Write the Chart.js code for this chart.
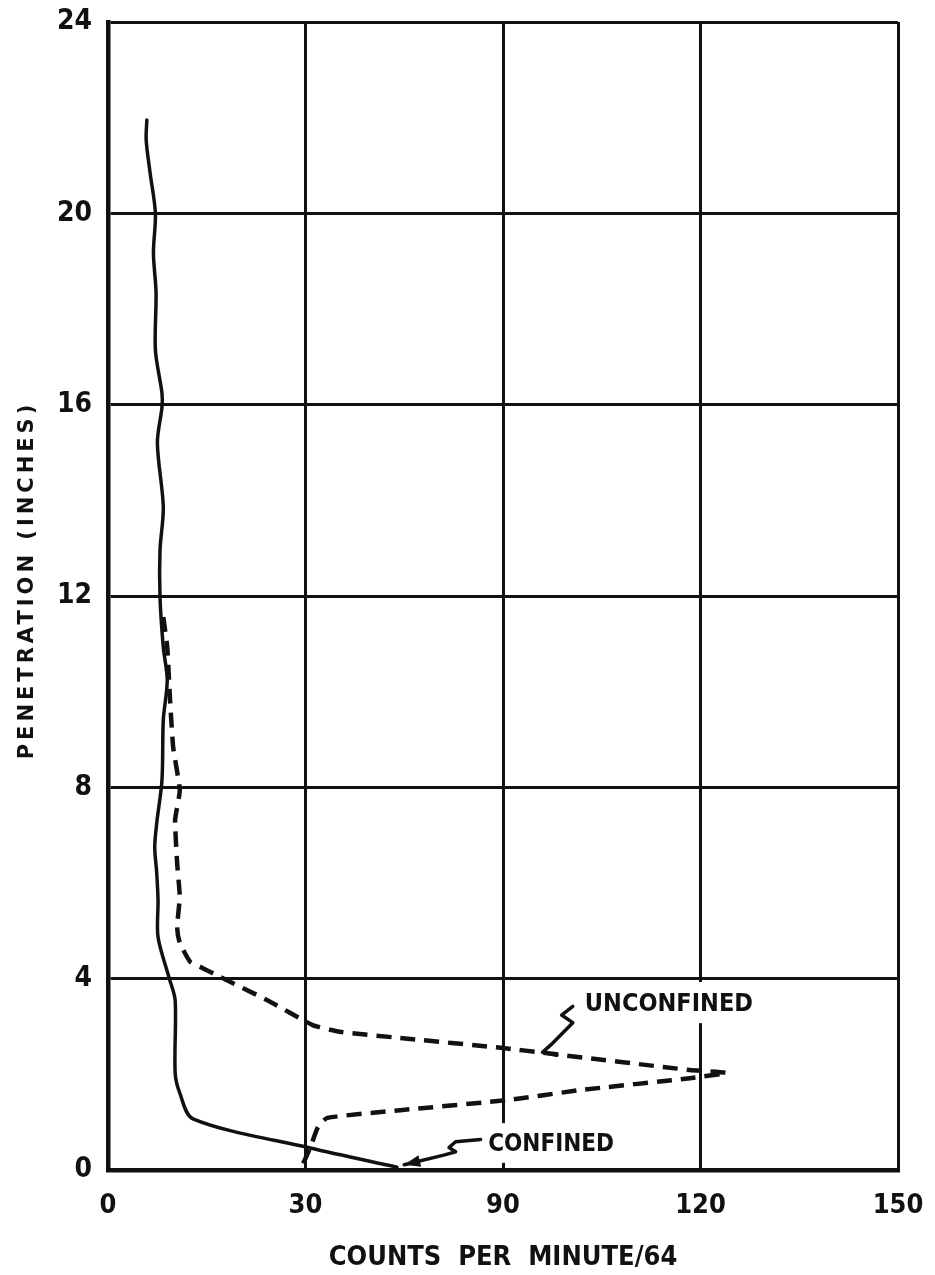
<!DOCTYPE html>
<html>
<head>
<meta charset="utf-8">
<script src="https://cdn.jsdelivr.net/npm/chart.js@4.4.1/dist/chart.umd.min.js"></script>
<style>
  html, body { margin: 0; padding: 0; background: #ffffff; }
  #wrap { width: 935px; height: 1275px; position: relative; }
</style>
</head>
<body>
<div id="wrap"><canvas id="c" width="935" height="1275"></canvas></div>
<script>
// ---- Data (x in grid units: 30 per division; labels as printed on the original) ----
const xTickLabels = ['0', '30', '90', '120', '150'];
const yTickValues = [0, 4, 8, 12, 16, 20, 24];

// CONFINED (solid)
const confinedX = [5.9, 5.8, 6.4, 7.2, 6.9, 7.3, 7.2, 8.2, 8.2, 7.5, 8.4, 7.9, 7.9, 8.4, 9.0, 8.4, 8.2, 7.4, 7.1, 7.4, 7.6, 7.6, 9.3, 10.2, 10.2, 10.9, 12.9, 30.7, 43.9];
const confinedY = [21.95, 21.53, 20.84, 20.0, 19.17, 18.34, 17.14, 16.24, 15.95, 15.2, 13.86, 12.96, 11.98, 10.93, 10.24, 9.41, 8.15, 7.25, 6.75, 6.21, 5.64, 4.87, 4.01, 3.55, 2.03, 1.61, 1.07, 0.46, 0.06];

// UNCONFINED (dashed)
const unconfinedX = [8.4, 9.0, 9.4, 9.9, 10.9, 10.2, 10.5, 10.9, 10.5, 10.9, 12.5, 14.4, 17.0, 24.2, 31.1, 35.2, 44.4, 60.0, 66.1, 88.4, 94.0, 88.4, 71.7, 60.6, 44.4, 33.3, 31.9, 30.7, 29.2];
const unconfinedY = [11.56, 10.93, 9.89, 8.84, 7.94, 7.32, 6.42, 5.71, 5.08, 4.75, 4.35, 4.22, 4.04, 3.55, 3.03, 2.89, 2.76, 2.55, 2.45, 2.09, 2.03, 1.92, 1.67, 1.46, 1.25, 1.09, 0.90, 0.46, 0.0];

const seriesLabels = ['CONFINED', 'UNCONFINED'];
const xTitle = 'COUNTS  PER  MINUTE/64';
const yTitle = 'PENETRATION (INCHES)';

const INK = '#111111';
const NARROW = "'Liberation Sans Narrow', 'DejaVu Sans Condensed', 'DejaVu Sans', sans-serif";
const WIDE = "'DejaVu Sans', 'Liberation Sans', sans-serif";

function pts(xs, ys) { return xs.map((x, i) => ({ x: x, y: ys[i] })); }

// label annotations (anchor in data units) + leader squiggles (data units)
const annotations = [
  { text: 'UNCONFINED', x: 85.2, y: 3.45, size: 25,
    mask: [71.6, 98.2, 3.93, 3.07],
    leader: [[70.6, 3.42], [68.9, 3.24], [70.6, 3.08], [67.3, 2.62], [66.0, 2.46], [68.2, 2.40]],
    arrow: false },
  { text: 'CONFINED', x: 67.3, y: 0.52, size: 24,
    mask: [57.0, 77.4, 0.98, 0.15],
    leader: [[56.6, 0.64], [52.8, 0.59], [51.8, 0.47], [52.8, 0.38], [51.0, 0.31], [45.0, 0.11]],
    arrow: true }
];

const overlay = {
  id: 'overlay',
  beforeDatasetsDraw(chart) {
    const { ctx, scales: { x, y } } = chart;
    ctx.save();
    ctx.fillStyle = '#ffffff';
    annotations.forEach(a => {
      const x0 = x.getPixelForValue(a.mask[0]), x1 = x.getPixelForValue(a.mask[1]);
      const y0 = y.getPixelForValue(a.mask[2]), y1 = y.getPixelForValue(a.mask[3]);
      ctx.fillRect(x0, y0, x1 - x0, y1 - y0);
    });
    ctx.restore();
  },
  afterDatasetsDraw(chart) {
    const { ctx, scales: { x, y } } = chart;
    ctx.save();
    ctx.fillStyle = INK;
    ctx.strokeStyle = INK;
    ctx.lineCap = 'round';
    ctx.lineJoin = 'round';
    annotations.forEach(a => {
      ctx.font = "bold " + a.size + "px " + NARROW;
      ctx.textAlign = 'center';
      ctx.textBaseline = 'middle';
      ctx.fillText(a.text, x.getPixelForValue(a.x), y.getPixelForValue(a.y));
      ctx.lineWidth = 3.5;
      ctx.beginPath();
      a.leader.forEach((p, i) => {
        const px = x.getPixelForValue(p[0]), py = y.getPixelForValue(p[1]);
        if (i === 0) ctx.moveTo(px, py); else ctx.lineTo(px, py);
      });
      ctx.stroke();
      if (a.arrow) {
        const n = a.leader.length;
        const ex = x.getPixelForValue(a.leader[n - 1][0]), ey = y.getPixelForValue(a.leader[n - 1][1]);
        const sx = x.getPixelForValue(a.leader[n - 2][0]), sy = y.getPixelForValue(a.leader[n - 2][1]);
        const ang = Math.atan2(ey - sy, ex - sx);
        const L = 16, W = 6;
        ctx.beginPath();
        ctx.moveTo(ex, ey);
        ctx.lineTo(ex - L * Math.cos(ang) + W * Math.sin(ang), ey - L * Math.sin(ang) - W * Math.cos(ang));
        ctx.lineTo(ex - L * Math.cos(ang) - W * Math.sin(ang), ey - L * Math.sin(ang) + W * Math.cos(ang));
        ctx.closePath();
        ctx.fill();
      }
    });
    // rotated Y-axis title with letter spacing
    ctx.font = "bold 21px " + WIDE;
    ctx.textAlign = 'center';
    ctx.textBaseline = 'middle';
    try { ctx.letterSpacing = '4px'; } catch (e) {}
    ctx.translate(28, 580);
    ctx.rotate(-Math.PI / 2);
    ctx.fillText(yTitle, 0, 0);
    ctx.restore();
  }
};

new Chart(document.getElementById('c'), {
  type: 'scatter',
  data: {
    datasets: [
      { label: seriesLabels[0], data: pts(confinedX, confinedY), showLine: true,
        borderColor: INK, borderWidth: 3.5, pointRadius: 0, tension: 0.3,
        borderCapStyle: 'round', borderJoinStyle: 'round', fill: false },
      { label: seriesLabels[1], data: pts(unconfinedX, unconfinedY), showLine: true,
        borderColor: INK, borderWidth: 4.5, borderDash: [15, 9], pointRadius: 0, tension: 0.15,
        borderCapStyle: 'butt', borderJoinStyle: 'round', fill: false }
    ]
  },
  options: {
    responsive: false,
    animation: false,
    devicePixelRatio: 1,
    layout: { padding: { top: 22, right: 37, left: 0, bottom: 0 } },
    plugins: { legend: { display: false }, tooltip: { enabled: false } },
    scales: {
      x: {
        type: 'linear', min: 0, max: 120,
        afterFit(s) { s.height = 105; s.paddingLeft = 0; s.paddingRight = 0; },
        afterBuildTicks(s) { s.ticks = [0, 30, 60, 90, 120].map(v => ({ value: v })); },
        ticks: {
          color: INK, padding: 20,
          font: { family: NARROW, size: 27, weight: 'bold' },
          callback: (v, i) => xTickLabels[i]
        },
        grid: { color: INK, lineWidth: 3, drawTicks: false },
        border: { color: INK, width: 4.5 },
        title: { display: true, text: xTitle, color: INK,
          font: { family: NARROW, size: 27, weight: 'bold' },
          padding: { top: 0, bottom: 1 } }
      },
      y: {
        type: 'linear', min: 0, max: 24,
        afterFit(s) { s.width = 108; s.paddingTop = 0; s.paddingBottom = 0; },
        afterBuildTicks(s) { s.ticks = yTickValues.map(v => ({ value: v })); },
        ticks: {
          color: INK, padding: 16,
          font: { family: NARROW, size: 28, weight: 'bold' }
        },
        grid: { color: INK, lineWidth: 3, drawTicks: false },
        border: { color: INK, width: 4.5 },
        title: { display: false }
      }
    }
  },
  plugins: [overlay]
});
</script>
</body>
</html>
